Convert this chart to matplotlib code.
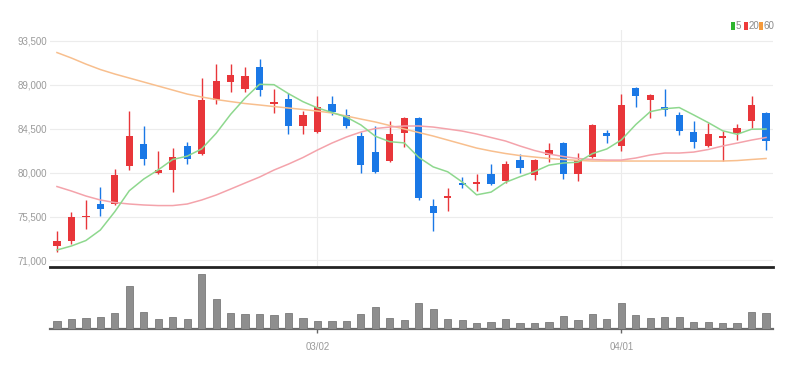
import matplotlib
matplotlib.use("Agg")
import matplotlib.pyplot as plt
from matplotlib.patches import Rectangle
import numpy as np
import pandas as pd
from matplotlib import font_manager

# ---------------- data ----------------
holidays = ["2022-03-01", "2022-03-09"]
dates = pd.bdate_range("2022-02-03", "2022-04-15", freq="C", holidays=holidays)

opens = [72500, 73000, 75400, 76800, 76800, 80700, 82900, 80000, 80300, 82700,
         81900, 87400, 89300, 88600, 90800, 87000, 87500, 84800, 84200, 87000,
         85900, 83700, 82100, 81200, 84100, 85600, 76600, 77400, 78900, 78800,
         79900, 79100, 81300, 79700, 81800, 83000, 79900, 81600, 84100, 82700,
         88700, 87400, 86700, 85900, 84200, 82700, 83500, 84100, 85300, 86100]
highs = [74000, 76000, 77200, 78500, 80400, 86300, 84800, 82200, 82500, 83100,
         89700, 91100, 91100, 90800, 91600, 88600, 88100, 86300, 87800, 87800,
         86500, 84200, 84800, 85300, 85700, 85700, 77300, 78400, 79500, 79900,
         80900, 81200, 81900, 81400, 83000, 83100, 82000, 85000, 84400, 88000,
         88800, 88000, 88600, 86200, 85300, 85100, 84300, 85000, 87800, 86200]
lows = [71900, 72700, 74200, 75600, 76700, 80300, 80800, 79900, 78000, 80900,
        81800, 87000, 88200, 88300, 87800, 86100, 84000, 83900, 84100, 85900,
        84600, 80000, 80000, 81100, 82600, 77200, 74000, 76100, 78400, 78100,
        78700, 78900, 80000, 79200, 81100, 79300, 79100, 81500, 83000, 82200,
        86700, 85600, 85800, 83800, 82500, 82600, 81200, 83300, 84600, 82300]
closes = [73000, 75400, 75600, 76300, 79700, 83700, 81400, 80300, 81600, 81400,
          87400, 89400, 90000, 89900, 88500, 87200, 84800, 85900, 86700, 86200,
          84800, 80800, 80100, 83900, 85600, 77400, 75900, 77600, 78700, 79000,
          78800, 80900, 80500, 81300, 82300, 79900, 81300, 84900, 83700, 86900,
          87800, 87900, 86400, 84300, 83100, 83900, 83700, 84600, 86900, 83200]
volumes = [250, 300, 350, 380, 500, 1300, 530, 300, 380, 300,
           1660, 900, 500, 450, 450, 430, 500, 330, 250, 250,
           250, 450, 680, 350, 280, 780, 600, 300, 280, 200,
           230, 300, 200, 200, 230, 400, 280, 450, 300, 780,
           430, 330, 380, 380, 230, 230, 200, 200, 530, 480]
ma5 = [72070, 72480, 73040, 74120, 76000, 78140, 79340, 80280, 81340, 81680,
       82420, 84020, 85960, 87620, 89040, 89000, 88080, 87260, 86620, 86160,
       85680, 84880, 83720, 83160, 83040, 81560, 80580, 80080, 79040, 77720,
       78000, 79000, 79580, 80100, 80760, 80980, 81060, 81940, 82420, 83340,
       84920, 86240, 86540, 86660, 85900, 85120, 84280, 83920, 84440, 84460]
ma20 = [78570, 78110, 77600, 77190, 76930, 76780, 76680, 76620, 76620, 76780,
        77190, 77700, 78310, 78930, 79540, 80260, 80870, 81540, 82310, 83020,
        83640, 84150, 84510, 84660, 84770, 84770, 84660, 84460, 84250, 83950,
        83590, 83230, 82720, 82260, 81900, 81640, 81440, 81340, 81280, 81280,
        81490, 81800, 82000, 82000, 82100, 82360, 82720, 83020, 83330, 83590]
ma60 = [92290, 91730, 91110, 90550, 90090, 89680, 89270, 88860, 88450, 88040,
        87740, 87480, 87270, 87070, 86920, 86760, 86610, 86460, 86300, 86100,
        85790, 85480, 85180, 84820, 84460, 84100, 83740, 83330, 82920, 82510,
        82210, 81950, 81740, 81590, 81440, 81340, 81250, 81180, 81180, 81180,
        81180, 81180, 81180, 81180, 81180, 81180, 81180, 81230, 81340, 81440]
price_ticks = [71000, 75500, 80000, 84500, 89000, 93500]
ma_labels = ["5", "20", "60"]

# ---------------- style ----------------
UP = "#e8363a"
DOWN = "#1a78e6"
C5, C20, C60 = "#8ed88e", "#f4a3ab", "#f8bf8e"
LEG = ["#2fb52f", "#ee3a3a", "#f59a3a"]
LABEL_C = "#9a9a9a"

avail = {f.name for f in font_manager.fontManager.ttflist}
if "Liberation Sans Narrow" in avail:
    fam = ["Liberation Sans Narrow"]
    fsz = 8
elif "Liberation Sans" in avail:
    fam = ["Liberation Sans"]
    fsz = 7
else:
    fam = ["DejaVu Sans"]
    fsz = 6.5

W, H = 801, 370
fig = plt.figure(figsize=(W / 100, H / 100), dpi=100)
fig.patch.set_facecolor("white")

x = np.arange(len(dates))
n = len(dates)

def fx(px):
    return px / W

def fy(py):
    return (H - py) / H

top_px, pbot_px, vbot_px = 30, 266.7, 329.3
left_px, right_px = 50, 773
ax = fig.add_axes([fx(left_px), fy(pbot_px), fx(right_px - left_px), (pbot_px - top_px) / H])
vax = fig.add_axes([fx(left_px), fy(vbot_px), fx(right_px - left_px), (vbot_px - pbot_px) / H])

o = np.array(opens); c = np.array(closes); h = np.array(highs); l = np.array(lows)
cols = [UP if cc >= oo else DOWN for oo, cc in zip(o, c)]

ax.vlines(x, l, h, colors=cols, lw=1.0, zorder=3)
body_h = np.maximum(np.abs(c - o), 90)
ax.bar(x, body_h, bottom=np.minimum(o, c), width=0.5, color=cols, zorder=4, linewidth=0)

ax.plot(x, ma60, color=C60, lw=1.1, zorder=5)
ax.plot(x, ma20, color=C20, lw=1.1, zorder=5)
ax.plot(x, ma5, color=C5, lw=1.1, zorder=5)

ax.set_xlim(-0.48, n - 1 + 0.48)
ax.set_ylim(70360, 94600)
ax.set_yticks(price_ticks)
ax.set_yticklabels([f"{v:,}" for v in price_ticks], family=fam, fontsize=fsz, color=LABEL_C)
ax.tick_params(axis="y", length=0, pad=2)

month_ticks = [i for i in range(1, n) if dates[i].month != dates[i - 1].month]
ax.set_xticks(month_ticks)
ax.tick_params(axis="x", length=0, labelbottom=False)
ax.grid(True, color="#ececec", lw=0.8, zorder=0)
for s in ["top", "right", "left"]:
    ax.spines[s].set_visible(False)
ax.spines["bottom"].set_color("#222222")
ax.spines["bottom"].set_linewidth(2.0)

vax.bar(x, volumes, width=0.5, color="#8e8e8e", edgecolor="#7a7a7a", linewidth=0.6, zorder=3)
vax.set_xlim(ax.get_xlim())
vax.set_ylim(0, 1880)
vax.set_yticks([])
vax.set_xticks(month_ticks)
vax.set_xticklabels([dates[i].strftime("%m/%d") for i in month_ticks], family=fam,
                    fontsize=fsz, color=LABEL_C)
vax.tick_params(axis="x", length=3, width=1, color="#666666", pad=6)
for s in ["top", "right", "left"]:
    vax.spines[s].set_visible(False)
vax.spines["bottom"].set_color("#6a6a6a")
vax.spines["bottom"].set_linewidth(1.6)
vax.patch.set_alpha(0)

# legend
sq_x = [731, 744, 759]
tx_x = [735.5, 748.5, 763.5]
for sx, tx, col, lab in zip(sq_x, tx_x, LEG, ma_labels):
    fig.add_artist(Rectangle((fx(sx), fy(30)), 3.5 / W, 8 / H, transform=fig.transFigure,
                             color=col, lw=0))
    fig.text(fx(tx), fy(26), lab, family=fam, fontsize=fsz, color="#8a8a8a",
             va="center", ha="left")

fig.savefig("out.png", dpi=100, facecolor="white")
